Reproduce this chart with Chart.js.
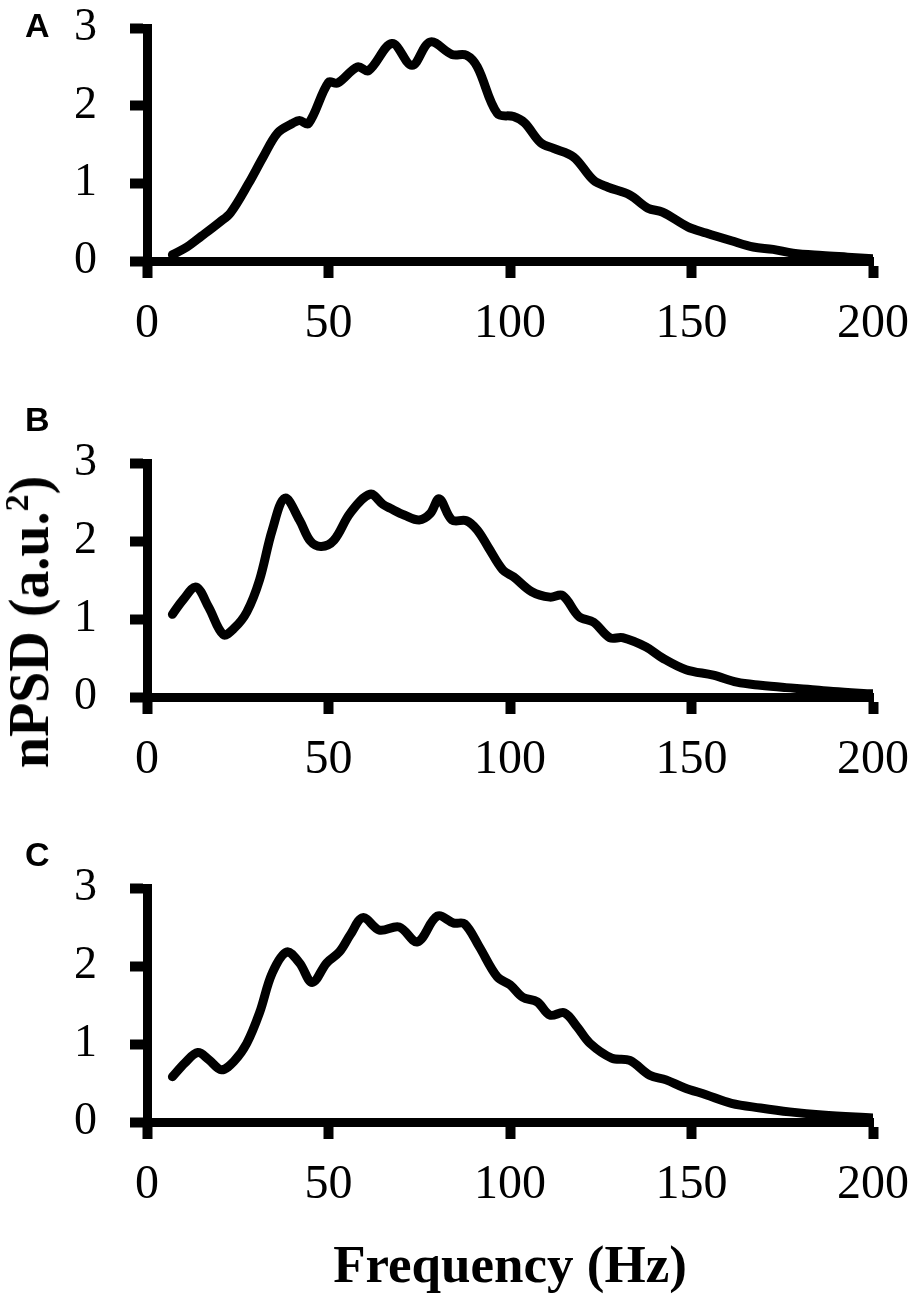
<!DOCTYPE html>
<html>
<head>
<meta charset="utf-8">
<script src="https://cdn.jsdelivr.net/npm/chart.js@4"></script>
<style>
  html, body { margin: 0; padding: 0; background: #fff; }
  #wrap { position: relative; width: 920px; height: 1300px; overflow: hidden; background: #fff; }
  canvas { position: absolute; left: 0; }
  .panel { position: absolute; left: 25px; font-family: "Liberation Sans", Arial, sans-serif; font-weight: bold; font-size: 34px; line-height: 34px; color: #000; }
  .ytitle { position: absolute; left: 29px; top: 622px; transform: translate(-50%, -50%) rotate(-90deg); white-space: nowrap;
            font-family: "Liberation Serif", "Times New Roman", serif; font-weight: bold; font-size: 56px; line-height: 56px; color: #000; }
  .ytitle .sup { font-size: 34px; vertical-align: super; line-height: 0; }
  .xtitle { position: absolute; left: 510px; top: 1238px; transform: translateX(-50%); white-space: nowrap;
            font-family: "Liberation Serif", "Times New Roman", serif; font-weight: bold; font-size: 53px; line-height: 53px; color: #000; }
</style>
</head>
<body>
<div id="wrap">
  <canvas id="cA" width="920" height="380" style="top:0px"></canvas>
  <canvas id="cB" width="920" height="380" style="top:435px"></canvas>
  <canvas id="cC" width="920" height="380" style="top:860px"></canvas>
  <div class="panel" style="top:8px">A</div>
  <div class="panel" style="top:402px">B</div>
  <div class="panel" style="top:837px">C</div>
  <div class="ytitle">nPSD (a.u.<span class="sup">2</span>)</div>
  <div class="xtitle">Frequency (Hz)</div>
</div>
<script>
// ---- Data ----
const xTickValues = [0, 50, 100, 150, 200];
const yTickValues = [0, 1, 2, 3];

const freqA = [7, 11, 15, 20, 23, 28, 32, 36, 40, 42, 44.5, 50, 52.5, 58, 61, 67.5, 73, 78, 84, 88, 91, 96.5, 101, 104, 108.5, 112, 117.5, 123, 127, 133, 138, 142, 149, 154, 161, 167, 172.5, 178, 186, 193, 200];
const psdA  = [0.08, 0.18, 0.32, 0.50, 0.62, 1.00, 1.34, 1.65, 1.77, 1.81, 1.77, 2.30, 2.29, 2.50, 2.45, 2.80, 2.52, 2.82, 2.66, 2.65, 2.50, 1.90, 1.86, 1.78, 1.52, 1.45, 1.34, 1.04, 0.95, 0.85, 0.68, 0.63, 0.44, 0.36, 0.26, 0.18, 0.15, 0.10, 0.07, 0.05, 0.03];

const freqB = [7, 10, 13.5, 17, 21, 24, 27.5, 31, 34.5, 38, 42, 45, 48, 51.5, 56, 61.5, 65, 67, 71, 75, 78, 80.5, 84, 88, 91, 94, 98, 101, 106, 111, 114.5, 119, 123, 127.5, 131, 137.5, 142, 148.5, 156, 162.5, 169, 176, 182, 189, 200];
const psdB  = [1.06, 1.25, 1.41, 1.15, 0.80, 0.88, 1.09, 1.50, 2.14, 2.55, 2.27, 2.00, 1.93, 2.01, 2.36, 2.60, 2.47, 2.42, 2.33, 2.27, 2.35, 2.54, 2.27, 2.26, 2.14, 1.92, 1.63, 1.54, 1.35, 1.28, 1.30, 1.03, 0.96, 0.76, 0.76, 0.64, 0.50, 0.35, 0.28, 0.19, 0.15, 0.12, 0.10, 0.07, 0.04];

const freqC = [7, 10.5, 14, 17, 20.5, 24, 27.5, 31, 34.5, 38.5, 42, 45.5, 49.5, 53, 56, 59.5, 64, 69.5, 74.5, 80, 84.5, 87.5, 91.5, 96.5, 100, 103.5, 107.5, 111, 115, 118.5, 122, 128, 133, 138.5, 143, 148, 154, 161, 169, 177, 186, 200];
const psdC  = [0.58, 0.76, 0.89, 0.80, 0.67, 0.78, 1.01, 1.40, 1.91, 2.18, 2.04, 1.79, 2.04, 2.18, 2.40, 2.62, 2.46, 2.50, 2.31, 2.64, 2.55, 2.54, 2.25, 1.86, 1.76, 1.60, 1.54, 1.37, 1.40, 1.22, 1.01, 0.82, 0.79, 0.60, 0.54, 0.44, 0.35, 0.24, 0.18, 0.13, 0.09, 0.05];

// ---- Chart builder ----
function makeChart(id, freq, psd, xScaleHeight) {
  const points = freq.map((f, i) => ({ x: f, y: psd[i] }));
  return new Chart(document.getElementById(id), {
    type: 'line',
    data: {
      datasets: [{
        data: points,
        borderColor: '#000',
        borderWidth: 9,
        pointRadius: 0,
        tension: 0.35,
        fill: false,
        borderCapStyle: 'round',
        borderJoinStyle: 'round'
      }]
    },
    options: {
      responsive: false,
      animation: false,
      devicePixelRatio: 1,
      layout: { padding: { top: 28, left: 0, right: 47, bottom: 0 } },
      plugins: { legend: { display: false }, tooltip: { enabled: false } },
      scales: {
        x: {
          type: 'linear',
          min: xTickValues[0],
          max: xTickValues[xTickValues.length - 1],
          afterBuildTicks: (s) => { s.ticks = xTickValues.map(v => ({ value: v })); },
          afterFit: (s) => { s.height = xScaleHeight; s.paddingLeft = 0; s.paddingRight = 0; },
          grid: { display: true, drawOnChartArea: false, drawTicks: true, tickLength: 17, tickWidth: 10, tickColor: '#000', color: '#000' },
          border: { display: true, width: 9, color: '#000' },
          ticks: { color: '#000', padding: 18, maxRotation: 0, autoSkip: false,
                   font: { family: '"Liberation Serif", "Times New Roman", serif', size: 48 } }
        },
        y: {
          type: 'linear',
          min: yTickValues[0],
          max: yTickValues[yTickValues.length - 1],
          afterBuildTicks: (s) => { s.ticks = yTickValues.map(v => ({ value: v })); },
          afterFit: (s) => { s.width = 147; s.paddingTop = 0; s.paddingBottom = 0; },
          grid: { display: true, drawOnChartArea: false, drawTicks: true, tickLength: 17, tickWidth: 10, tickColor: '#000', color: '#000' },
          border: { display: true, width: 9, color: '#000' },
          ticks: { color: '#000', padding: 33, autoSkip: false,
                   font: { family: '"Liberation Serif", "Times New Roman", serif', size: 46 } }
        }
      }
    }
  });
}

makeChart('cA', freqA, psdA, 119);
makeChart('cB', freqB, psdB, 118);
makeChart('cC', freqC, psdC, 118);
</script>
</body>
</html>
